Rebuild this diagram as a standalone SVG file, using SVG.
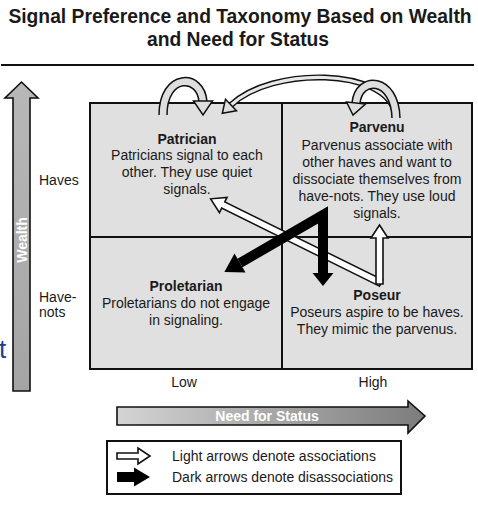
<svg xmlns="http://www.w3.org/2000/svg" width="478" height="505" viewBox="0 0 478 505">
<defs>
<style>
text{font-family:"Liberation Sans",Arial,sans-serif;fill:#1a1a1a}
.t{font-size:14px;text-anchor:middle}
.b{font-weight:bold}
.q{fill:#e0e0e0;stroke:#111;stroke-width:2}
.lo{fill:none;stroke:#111;stroke-width:9.5}
.li{fill:none;stroke:#dedede;stroke-width:6.5}
.so{fill:none;stroke:#111;stroke-width:6}
.si{fill:none;stroke:#e8e8e8;stroke-width:3.2}
.hd{fill:#dedede;stroke:#111;stroke-width:1.5;stroke-linejoin:miter}
.wa{fill:#fff;stroke:#111;stroke-width:1.6;stroke-linejoin:miter}
.da{fill:#000}
</style>
<linearGradient id="gw" x1="0" y1="0" x2="0" y2="1">
<stop offset="0" stop-color="#b8b8b8"/><stop offset="1" stop-color="#a4a4a4"/>
</linearGradient>
<linearGradient id="gn" x1="117" y1="0" x2="425" y2="0" gradientUnits="userSpaceOnUse">
<stop offset="0" stop-color="#d4d4d4"/><stop offset="1" stop-color="#7c7c7c"/>
</linearGradient>
</defs>
<rect width="478" height="505" fill="#fff"/>

<g id="title">
<text x="240" y="23" style="font-size:19.3px;font-weight:bold;text-anchor:middle">Signal Preference and Taxonomy Based on Wealth</text>
<text x="238" y="46" style="font-size:19.3px;font-weight:bold;text-anchor:middle">and Need for Status</text>
<rect x="1" y="64" width="473" height="2" fill="#111"/>
</g>

<g id="wealth-axis">
<polygon points="13,391 13,98 5,98 21.5,82 38,98 30,98 30,391" fill="url(#gw)" stroke="#111" stroke-width="1.6"/>
<text transform="translate(26.5,240) rotate(-90)" style="font-size:14px;font-weight:bold;fill:#fff;text-anchor:middle">Wealth</text>
<text x="39" y="185" style="font-size:14px">Haves</text>
<text x="39" y="302" style="font-size:14px">Have-</text>
<text x="39" y="317" style="font-size:14px">nots</text>
</g>

<text x="-1" y="358" style="font-size:26px;fill:#1c3f94">t</text>

<g id="patrician">
<rect class="q" x="90" y="103" width="192" height="134"/>
<text class="t b" x="187" y="143.5">Patrician</text>
<text class="t" x="187" y="160">Patricians signal to each</text>
<text class="t" x="187" y="177">other. They use quiet</text>
<text class="t" x="187" y="193.5">signals.</text>
</g>
<g id="parvenu">
<rect class="q" x="282" y="103" width="190" height="134"/>
<text class="t b" x="377" y="132">Parvenu</text>
<text class="t" x="377" y="150">Parvenus associate with</text>
<text class="t" x="377" y="167">other haves and want to</text>
<text class="t" x="377" y="184">dissociate themselves from</text>
<text class="t" x="377" y="201">have-nots. They use loud</text>
<text class="t" x="377" y="218">signals.</text>
</g>
<g id="proletarian">
<rect class="q" x="90" y="237" width="192" height="132"/>
<text class="t b" x="186" y="291">Proletarian</text>
<text class="t" x="186" y="308">Proletarians do not engage</text>
<text class="t" x="186" y="325">in signaling.</text>
</g>
<g id="poseur">
<rect class="q" x="282" y="237" width="190" height="132"/>
<text class="t b" x="377" y="300">Poseur</text>
<text class="t" x="377" y="317">Poseurs aspire to be haves.</text>
<text class="t" x="377" y="334">They mimic the parvenus.</text>
</g>

<g id="connectors">
<path class="so" d="M395,113 C386,68 272,66 231,105"/>
<path class="si" d="M395,113 C386,68 272,66 231,105"/>
<polygon class="hd" points="236.5,110.8 225.5,99.2 222.3,113.3"/>
<path class="lo" d="M163,115 C163,73 201,73 203,102"/>
<path class="li" d="M163,115 C163,73 201,73 203,102"/>
<polygon class="hd" points="193.5,101 212.5,101 203,115"/>
<path class="lo" d="M396,118 C395,77 359,75 356,103"/>
<path class="li" d="M396,118 C395,77 359,75 356,103"/>
<polygon class="hd" points="346.5,102 365.5,104 353,115"/>
<g transform="translate(381,283) rotate(206.3)">
<polygon class="wa" points="0,-3.5 176,-3.5 176,-8.5 190,0 176,8.5 176,3.5 0,3.5"/>
</g>
<polygon class="wa" points="376,284 376,238 371,238 379.5,225 388,238 383,238 383,284"/>
<path d="M240,263 L323,215 L323,274" fill="none" stroke="#000" stroke-width="10" stroke-linejoin="miter"/>
<polygon class="da" points="224.4,272 245.5,272.5 234.5,253.5"/>
<polygon class="da" points="312.5,273 333.5,273 323,286"/>
</g>

<g id="status-axis">
<text x="184" y="387" style="font-size:14px;text-anchor:middle">Low</text>
<text x="373" y="387" style="font-size:14px;text-anchor:middle">High</text>
<polygon points="117,407 408,407 408,401 425,416 408,433 408,425 117,425" fill="url(#gn)" stroke="#111" stroke-width="1.6"/>
<text x="267" y="421" style="font-size:14px;font-weight:bold;fill:#fff;text-anchor:middle">Need for Status</text>
</g>

<g id="legend">
<rect x="107" y="441" width="294" height="53" fill="#fff" stroke="#111" stroke-width="2"/>
<polygon class="wa" points="117,453 138,453 138,448 150,456 138,464 138,459 117,459"/>
<polygon class="da" points="117,472 134,472 134,467.5 150,477 134,486.5 134,482 117,482"/>
<text x="172" y="461" style="font-size:14px">Light arrows denote associations</text>
<text x="172" y="482" style="font-size:14px">Dark arrows denote disassociations</text>
</g>
</svg>
